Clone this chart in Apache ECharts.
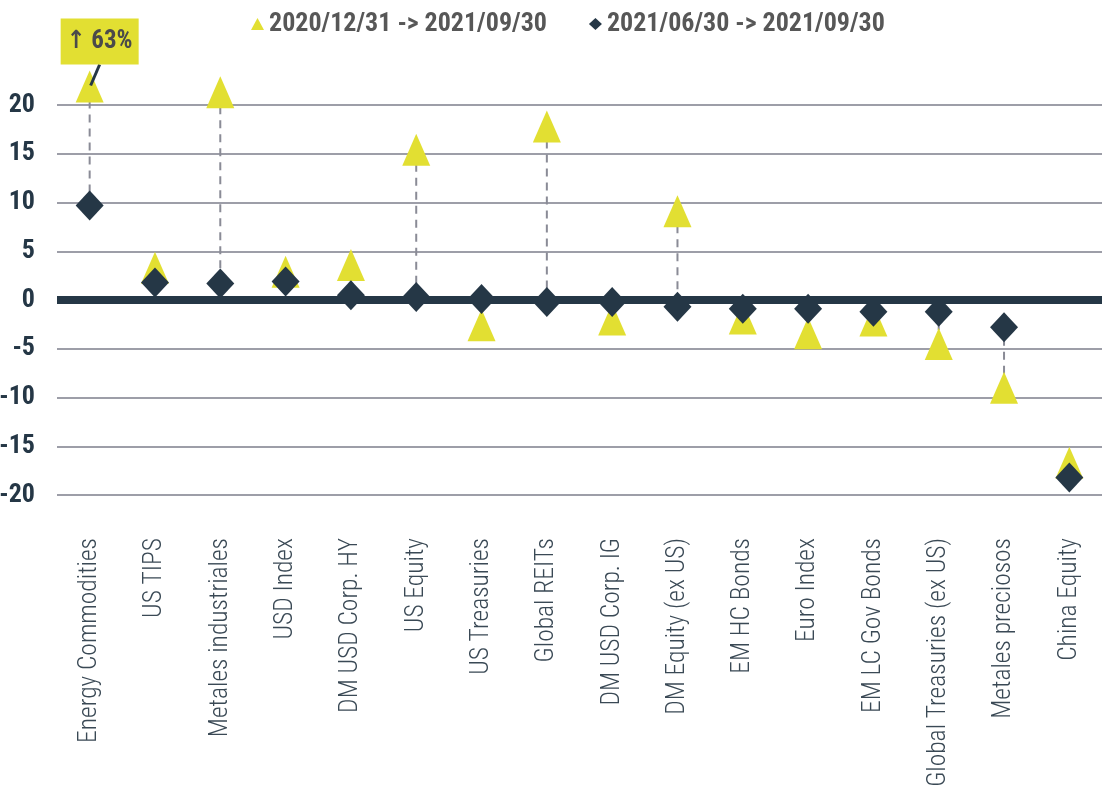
<!DOCTYPE html>
<html>
<head>
<meta charset="utf-8">
<script src="https://cdn.jsdelivr.net/npm/echarts@6/dist/echarts.min.js"></script>
<style>
  html, body { margin: 0; padding: 0; background: #fff; }
  #chart { width: 1102px; height: 786px; }
</style>
</head>
<body>
<div id="chart"></div>
<script>
const categories = ['Energy Commodities', 'US TIPS', 'Metales industriales', 'USD Index', 'DM USD Corp. HY', 'US Equity', 'US Treasuries', 'Global REITs', 'DM USD Corp. IG', 'DM Equity (ex US)', 'EM HC Bonds', 'Euro Index', 'EM LC Gov Bonds', 'Global Treasuries (ex US)', 'Metales preciosos', 'China Equity']
const ytd_values = [63, 3.3, 21.3, 2.9, 3.6, 15.4, -2.6, 17.8, -2.0, 9.1, -1.9, -3.4, -2.1, -4.5, -9.0, -16.7]
const qtd_values = [9.7, 1.8, 1.7, 1.9, 0.5, 0.3, 0.1, -0.2, -0.2, -0.7, -0.9, -0.9, -1.2, -1.2, -2.8, -18.2]
const y_ticks = [-20, -15, -10, -5, 0, 5, 10, 15, 20]
const ytd_name = '2020/12/31 -> 2021/09/30'
const qtd_name = '2021/06/30 -> 2021/09/30'

// values above this are drawn at the cap with an arrow label
const y_cap = 21.9

const font = "'Roboto Condensed', 'Liberation Sans Narrow', 'Arial Narrow', 'DejaVu Sans Condensed', Roboto, sans-serif"
const yellow = '#e2df32'
const navy = '#253746'

const ytd_shown = ytd_values.map(v => Math.min(v, y_cap))

const chart = echarts.init(document.getElementById('chart'))

const option = {
    backgroundColor: '#fff',
    animation: false,
    textStyle: { fontFamily: font },
    legend: {
        top: 6,
        left: 246,
        itemGap: 42,
        itemWidth: 13,
        itemHeight: 12,
        textStyle: { fontFamily: font, fontSize: 26, fontWeight: 'bold', color: '#575757' },
        data: [ytd_name, qtd_name]
    },
    grid: { left: 57, right: 0, top: 105, bottom: 291, containLabel: false, outerBoundsMode: 'none' },
    xAxis: {
        type: 'category',
        data: categories,
        axisLine: { show: false },
        axisTick: { show: false },
        axisLabel: {
            rotate: 90,
            margin: 43,
            interval: 0,
            fontFamily: font,
            fontSize: 25.5,
            fontWeight: 300,
            color: '#3a4955'
        }
    },
    yAxis: {
        type: 'value',
        min: -20,
        max: 20,
        interval: 5,
        axisLine: { show: false },
        axisTick: { show: false },
        axisLabel: {
            margin: 22,
            fontFamily: font,
            fontSize: 26,
            fontWeight: 'bold',
            color: navy,
            customValues: y_ticks
        },
        splitLine: { lineStyle: { color: '#9d9ea8', width: 2 } }
    },
    series: [
        {
            type: 'custom',
            z: 2,
            silent: true,
            renderItem: function (params, api) {
                const a = api.coord([api.value(0), api.value(1)])
                const b = api.coord([api.value(0), api.value(2)])
                return {
                    type: 'line',
                    shape: { x1: a[0], y1: a[1], x2: b[0], y2: b[1] },
                    style: { stroke: '#8a8b96', lineWidth: 2, lineDash: [8, 6] }
                }
            },
            data: categories.map((c, i) => [i, ytd_shown[i], qtd_values[i]])
        },
        {
            name: ytd_name,
            type: 'scatter',
            z: 3,
            clip: false,
            symbol: 'triangle',
            symbolSize: [28, 32],
            itemStyle: { color: yellow, opacity: 1 },
            data: categories.map((c, i) => [i, ytd_shown[i]]),
            markLine: {
                silent: true,
                symbol: 'none',
                label: { show: false },
                lineStyle: { color: navy, width: 8, type: 'solid' },
                data: [{ yAxis: 0 }]
            }
        },
        {
            name: qtd_name,
            type: 'scatter',
            z: 4,
            clip: false,
            symbol: 'diamond',
            symbolSize: [28, 30],
            itemStyle: { color: navy, opacity: 1 },
            data: categories.map((c, i) => [i, qtd_values[i]])
        },
        {
            type: 'custom',
            z: 6,
            silent: true,
            clip: false,
            renderItem: function (params, api) {
                const real = api.value(2)
                if (real <= y_cap) return null
                const p = api.coord([api.value(0), api.value(1)])
                return {
                    type: 'group',
                    children: [
                        {
                            type: 'line',
                            shape: { x1: p[0] + 10, y1: p[1] - 22, x2: p[0] + 1, y2: p[1] - 1 },
                            style: { stroke: navy, lineWidth: 3 }
                        },
                        {
                            type: 'rect',
                            shape: { x: p[0] - 29, y: p[1] - 68, width: 78, height: 46 },
                            style: { fill: yellow }
                        },
                        {
                            type: 'text',
                            x: p[0] + 10,
                            y: p[1] - 45,
                            style: {
                                text: '↑ ' + Math.round(real) + '%',
                                fill: '#4a4a4a',
                                font: 'bold 25px ' + font,
                                align: 'center',
                                verticalAlign: 'middle'
                            }
                        }
                    ]
                }
            },
            data: categories.map((c, i) => [i, ytd_shown[i], ytd_values[i]])
        }
    ]
}

chart.setOption(option)
</script>
</body>
</html>
